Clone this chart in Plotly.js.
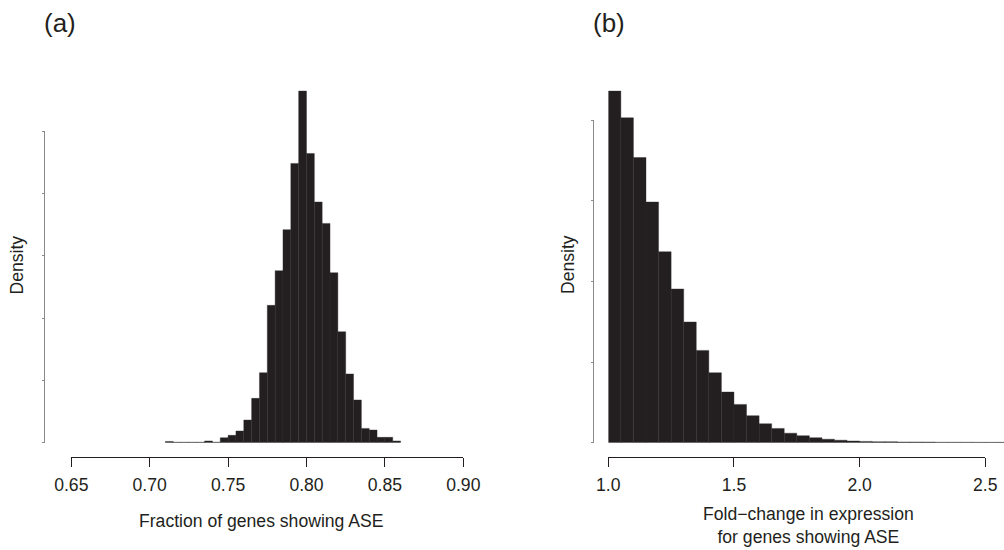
<!DOCTYPE html>
<html>
<head>
<meta charset="utf-8">
<script src="https://cdn.plot.ly/plotly-3.0.1.min.js"></script>
<style>html,body{margin:0;padding:0;background:#fff;}#chart{width:1004px;height:550px;}</style>
</head>
<body>
<div id="chart"></div>
<script>
// Panel (a): fraction of genes showing ASE, bin centres (bin width 0.005) and density
const fracBins = [0.7125,0.7175,0.7225,0.7275,0.7325,0.7375,0.7425,0.7475,0.7525,0.7575,
                  0.7625,0.7675,0.7725,0.7775,0.7825,0.7875,0.7925,0.7975,0.8025,0.8075,
                  0.8125,0.8175,0.8225,0.8275,0.8325,0.8375,0.8425,0.8475,0.8525,0.8575];
const fracDensity = [0.10,0.04,0.04,0.04,0.04,0.14,0.04,0.40,0.59,0.94,
                     1.82,3.56,5.62,11.03,13.81,17.11,22.43,28.24,23.23,19.33,
                     17.61,13.65,8.91,5.52,3.43,1.15,1.02,0.43,0.43,0.14];
const fracBinWidth = 0.005;
const fracTicks = [0.65,0.70,0.75,0.80,0.85,0.90];
const fracTickText = ["0.65","0.70","0.75","0.80","0.85","0.90"];
const fracYTicks = [0,5,10,15,20,25];

// Panel (b): fold-change in expression, bin centres (bin width 0.05) and density
const foldBins = [1.025,1.075,1.125,1.175,1.225,1.275,1.325,1.375,1.425,1.475,
                  1.525,1.575,1.625,1.675,1.725,1.775,1.825,1.875,1.925,1.975,
                  2.025,2.075,2.125,2.175,2.225,2.275,2.325,2.375,2.425,2.475,
                  2.525,2.575];
const foldDensity = [4.358,4.027,3.535,2.983,2.367,1.905,1.496,1.144,0.867,0.628,
                     0.475,0.335,0.235,0.177,0.118,0.087,0.062,0.043,0.031,0.021,
                     0.016,0.012,0.012,0.009,0.009,0.008,0.006,0.006,0.006,0.005,
                     0.005,0.005];
const foldBinWidth = 0.05;
const foldTicks = [1.0,1.5,2.0,2.5];
const foldTickText = ["1.0","1.5","2.0","2.5"];
const foldYTicks = [0,1,2,3,4];

const W = 1004, H = 550;
const px = v => v / W;
const py = v => 1 - v / H;

const ink = '#231f20';
const font = {family: '"Liberation Sans", Arial, Helvetica, sans-serif', size: 17.6, color: ink};

const barStyle = {color: ink, line: {color: '#2e2a2b', width: 0.4}};

const traces = [
  {type: 'bar', x: fracBins, y: fracDensity, width: fracBins.map(() => fracBinWidth),
   marker: barStyle, xaxis: 'x', yaxis: 'y', hoverinfo: 'x+y', showlegend: false},
  {type: 'scatter', mode: 'markers', x: [], y: [], xaxis: 'x', yaxis: 'y3', showlegend: false, hoverinfo: 'skip'},
  {type: 'bar', x: foldBins, y: foldDensity, width: foldBins.map(() => foldBinWidth),
   marker: barStyle, xaxis: 'x2', yaxis: 'y2', hoverinfo: 'x+y', showlegend: false},
  {type: 'scatter', mode: 'markers', x: [], y: [], xaxis: 'x4', yaxis: 'y4', showlegend: false, hoverinfo: 'skip'}
];

const hidden = {visible: false, showgrid: false, zeroline: false, fixedrange: true};

const layout = {
  width: W, height: H,
  margin: {l: 0, r: 0, t: 0, b: 0},
  paper_bgcolor: '#ffffff', plot_bgcolor: 'rgba(0,0,0,0)',
  font: font,
  bargap: 0,
  showlegend: false,
  // panel (a)
  xaxis: {domain: [px(71.3), px(463.3)], range: [0.65, 0.90], anchor: 'free', position: py(457),
          showline: true, linecolor: ink, linewidth: 1, ticks: 'outside', ticklen: 9, tickcolor: ink, tickwidth: 1,
          ticklabelstandoff: 3,
          tickvals: fracTicks, ticktext: fracTickText, tickfont: font, showgrid: false, zeroline: false, fixedrange: true},
  yaxis: Object.assign({domain: [py(442.7), py(80)], range: [0, (442.7 - 80) / 12.452], anchor: 'x'}, hidden),
  yaxis3: {domain: [py(442.7), py(131.4)], range: [0, 25], anchor: 'free', position: px(44),
           showline: true, linecolor: '#8a8a8a', linewidth: 1.2, ticks: 'outside', ticklen: 2, tickcolor: '#8a8a8a',
           tickvals: fracYTicks, showticklabels: false, showgrid: false, zeroline: false, fixedrange: true},
  // panel (b)
  xaxis2: Object.assign({domain: [px(608.3), 1], range: [1.0, 1.0 + (W - 608.3) / 251.33], anchor: 'y2'}, hidden),
  yaxis2: Object.assign({domain: [py(442.7), py(80)], range: [0, (442.7 - 80) / 80.68], anchor: 'x2'}, hidden),
  xaxis4: {domain: [px(608.3), px(985.3)], range: [1.0, 2.5], anchor: 'free', position: py(457),
           showline: true, linecolor: ink, linewidth: 1, ticks: 'outside', ticklen: 9, tickcolor: ink, tickwidth: 1,
           ticklabelstandoff: 3,
           tickvals: foldTicks, ticktext: foldTickText, tickfont: font, showgrid: false, zeroline: false, fixedrange: true},
  yaxis4: {domain: [py(442.7), py(120)], range: [0, 4], anchor: 'free', position: px(592.7),
           showline: true, linecolor: '#8a8a8a', linewidth: 1.2, ticks: 'outside', ticklen: 2, tickcolor: '#8a8a8a',
           tickvals: foldYTicks, showticklabels: false, showgrid: false, zeroline: false, fixedrange: true},
  annotations: [
    {text: '(a)', xref: 'paper', yref: 'paper', x: px(60), y: py(23), xanchor: 'center', yanchor: 'middle',
     showarrow: false, font: {family: font.family, size: 26, color: ink}},
    {text: '(b)', xref: 'paper', yref: 'paper', x: px(609), y: py(23), xanchor: 'center', yanchor: 'middle',
     showarrow: false, font: {family: font.family, size: 26, color: ink}},
    {text: 'Fraction of genes showing ASE', xref: 'paper', yref: 'paper', x: px(261), y: py(521),
     xanchor: 'center', yanchor: 'middle', showarrow: false, font: font},
    {text: 'Fold\u2212change in expression<br>for genes showing ASE', xref: 'paper', yref: 'paper', x: px(808), y: py(525),
     xanchor: 'center', yanchor: 'middle', showarrow: false, font: font},
    {text: 'Density', xref: 'paper', yref: 'paper', x: px(16.5), y: py(265), textangle: -90,
     xanchor: 'center', yanchor: 'middle', showarrow: false, font: font},
    {text: 'Density', xref: 'paper', yref: 'paper', x: px(568), y: py(265), textangle: -90,
     xanchor: 'center', yanchor: 'middle', showarrow: false, font: font}
  ]
};

Plotly.newPlot('chart', traces, layout, {displayModeBar: false, staticPlot: true});
</script>
</body>
</html>
